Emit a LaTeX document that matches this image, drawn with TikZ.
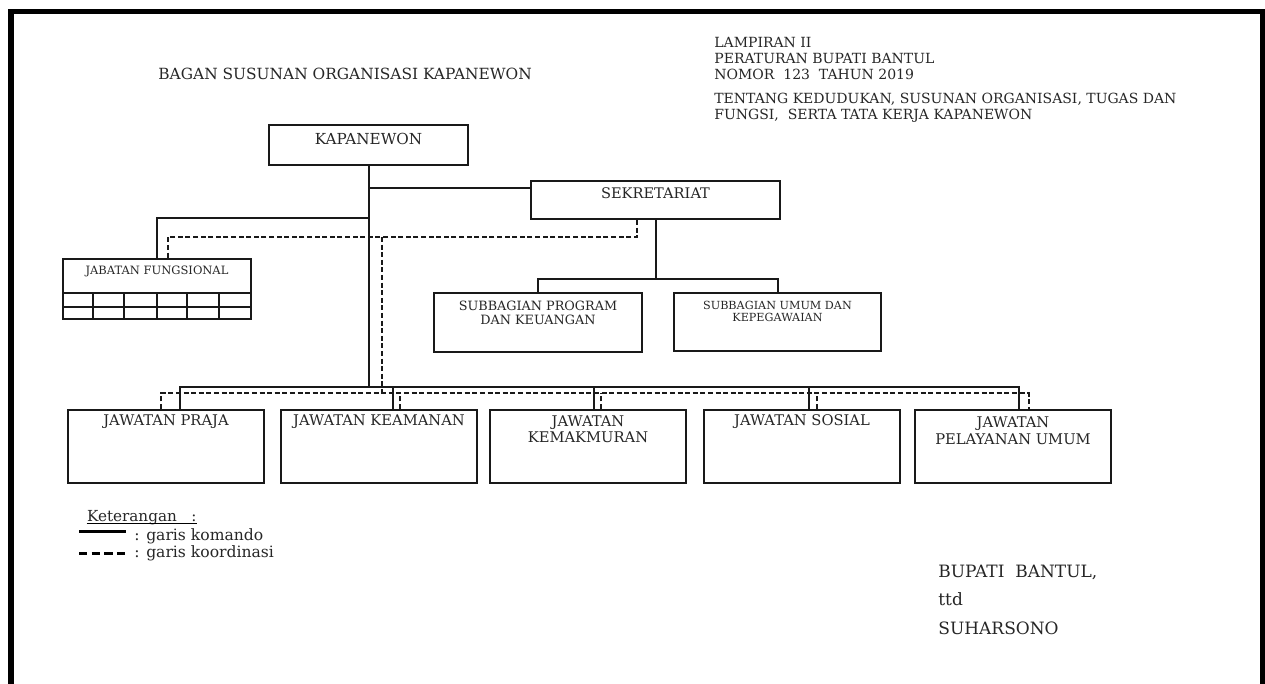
\documentclass[tikz,border=0pt]{standalone}
\usepackage{fontspec}
\setmainfont{DejaVu Serif}
\usetikzlibrary{positioning}
\begin{document}
\begin{tikzpicture}[x=0.5pt,y=-0.5pt]
        \tikzset{unit/.style = {draw=black!90, line width=1pt, inner sep=0pt}}
        \tikzset{caption/.style = {inner sep=0pt, align=center, text=black!85}}
        \tikzset{note/.style = {inner sep=0pt, align=left, text=black!85}}
        \tikzset{command/.style = {draw=black!90, line width=1pt}}
        \tikzset{coord/.style = {draw=black!90, line width=1pt, dash pattern=on 2.5pt off 1.3pt}}
        \useasboundingbox (0,0) rectangle (1265,684);
        % page frame
        \draw[line width=2.6pt] (11,684) -- (11,11.5) -- (1262.5,11.5) -- (1262.5,684);
        % headings
        \node[note, anchor=west, font=\fontsize{7.7}{9}\selectfont] (title) at (158,74) {BAGAN SUSUNAN ORGANISASI KAPANEWON};
        \node[note, anchor=west, font=\fontsize{7}{7.8}\selectfont] (lampiran) at (714,58.5) {LAMPIRAN II\\PERATURAN BUPATI BANTUL\\NOMOR~ 123~ TAHUN 2019};
        \node[note, anchor=west, font=\fontsize{7}{8}\selectfont] (tentang) at (714,107.5) {TENTANG KEDUDUKAN, SUSUNAN ORGANISASI, TUGAS DAN\\FUNGSI,~ SERTA TATA KERJA KAPANEWON};
        % boxes
        \node[unit, minimum width=99.5pt, minimum height=20pt] (kap) at (368.5,145) {};
        \node[unit, minimum width=124.5pt, minimum height=19pt] (sek) at (655.5,200) {};
        \node[unit, minimum width=94pt, minimum height=30pt] (jab) at (157,289) {};
        \node[unit, minimum width=104pt, minimum height=29.5pt] (sub1) at (538,322.5) {};
        \node[unit, minimum width=103.5pt, minimum height=29pt] (sub2) at (777.5,322) {};
        \node[unit, minimum width=98pt, minimum height=36.5pt] (j1) at (166,446.5) {};
        \node[unit, minimum width=98pt, minimum height=36.5pt] (j2) at (379,446.5) {};
        \node[unit, minimum width=98pt, minimum height=36.5pt] (j3) at (588,446.5) {};
        \node[unit, minimum width=98pt, minimum height=36.5pt] (j4) at (802,446.5) {};
        \node[unit, minimum width=98pt, minimum height=36.5pt] (j5) at (1013,446.5) {};
        % box texts
        \node[caption, font=\fontsize{7.6}{9}\selectfont] (kap-t) at ([yshift=-7.5pt]kap.north) {KAPANEWON};
        \node[caption, font=\fontsize{7.3}{8}\selectfont] (sek-t) at ([yshift=-6.5pt]sek.north) {SEKRETARIAT};
        \node[caption, font=\fontsize{5.75}{6.5}\selectfont] (jab-t) at ([yshift=-6.5pt]jab.north) {JABATAN FUNGSIONAL};
        \node[caption, font=\fontsize{6.4}{7}\selectfont] (sub1-t) at ([yshift=-10.5pt]sub1.north) {SUBBAGIAN PROGRAM\\DAN KEUANGAN};
        \node[caption, font=\fontsize{5.6}{6}\selectfont] (sub2-t) at ([yshift=-9.5pt]sub2.north) {SUBBAGIAN UMUM DAN\\KEPEGAWAIAN};
        \node[caption, font=\fontsize{7.35}{8}\selectfont] (j1-t) at ([yshift=-6.5pt]j1.north) {JAWATAN PRAJA};
        \node[caption, font=\fontsize{7.35}{8}\selectfont] (j2-t) at ([yshift=-6.5pt]j2.north) {JAWATAN KEAMANAN};
        \node[caption, font=\fontsize{7.35}{8}\selectfont] (j3-t) at ([yshift=-10.3pt]j3.north) {JAWATAN\\KEMAKMURAN};
        \node[caption, font=\fontsize{7.35}{8}\selectfont] (j4-t) at ([yshift=-6.5pt]j4.north) {JAWATAN SOSIAL};
        \node[caption, font=\fontsize{7.35}{8.5}\selectfont] (j5-t) at ([yshift=-10.7pt]j5.north) {JAWATAN\\PELAYANAN UMUM};
        % grid under jabatan fungsional
        \draw[command] (63,293) -- (251,293);
        \draw[command] (63,307) -- (251,307);
        \foreach \x in {93,124,157,187,219}
            \draw[command] (\x,293) -- (\x,319);
        % levels of the lines
        \coordinate (sekrow) at (0,188);
        \coordinate (jabrow) at (0,218);
        \coordinate (krow) at (0,237);
        \coordinate (subrow) at (0,279);
        \coordinate (cbus) at (0,387);
        \coordinate (kbus) at (0,393.5);
        % garis komando
        \draw[command] (kap.south) -- (kap.south |- cbus);
        \draw[command] (kap.south |- sekrow) -- (sek.west |- sekrow);
        \draw[command] (kap.south |- jabrow) -| (jab.north);
        \draw[command] (sek.south) -- (sek.south |- subrow);
        \draw[command] (sub1.north) |- (sub2.north |- subrow) -- (sub2.north);
        \coordinate (c1) at ([xshift=7pt]j1.north);
        \coordinate (c2) at ([xshift=7pt]j2.north);
        \coordinate (c3) at ([xshift=3pt]j3.north);
        \coordinate (c4) at ([xshift=3.5pt]j4.north);
        \coordinate (c5) at ([xshift=3pt]j5.north);
        \draw[command] (c1) |- (c5 |- cbus) -- (c5);
        \foreach \i in {2,3,4}
            \draw[command] (c\i) -- (c\i |- cbus);
        % garis koordinasi
        \coordinate (ksek) at ([xshift=-9.25pt]sek.south);
        \coordinate (kjab) at ([xshift=5.5pt]jab.north);
        \coordinate (ktop) at (382,237);
        \draw[coord] (ksek) |- (kjab |- krow) -- (kjab);
        \draw[coord] (ktop) -- (ktop |- kbus);
        \coordinate (k1) at ([xshift=-2.5pt]j1.north);
        \coordinate (k2) at ([xshift=10.5pt]j2.north);
        \coordinate (k3) at ([xshift=6.5pt]j3.north);
        \coordinate (k4) at ([xshift=7.5pt]j4.north);
        \coordinate (k5) at ([xshift=8pt]j5.north);
        \draw[coord] (k1) |- (k5 |- kbus) -- (k5);
        \foreach \i in {2,3,4}
            \draw[coord] (k\i) -- (k\i |- kbus);
        % keterangan
        \node[note, anchor=base west, font=\fontsize{7.6}{9}\selectfont] (ket) at (86.7,522) {Keterangan\ \ \ :};
        \draw[line width=0.6pt] ([yshift=-0.9pt]ket.base west) -- ([yshift=-0.9pt]ket.base east);
        \node[note, anchor=base west, font=\fontsize{7.8}{9}\selectfont] (komando) at (134,540.5) {: garis komando};
        \node[note, anchor=base west, font=\fontsize{7.8}{9}\selectfont] (koordinasi) at (134,557.5) {: garis koordinasi};
        \coordinate (lk) at (79,531.7);
        \coordinate (lo) at (79,553.3);
        \draw[line width=1.4pt] (lk) -- (lk -| 126,0);
        \draw[line width=1.4pt, dash pattern=on 4.2pt off 2.1pt] (lo) -- (lo -| 126,0);
        % tanda tangan
        \node[note, anchor=west, font=\fontsize{8.5}{14.25}\selectfont] (bupati) at (938,599.5) {BUPATI~ BANTUL,\\ttd\\SUHARSONO};
\end{tikzpicture}
\end{document}
